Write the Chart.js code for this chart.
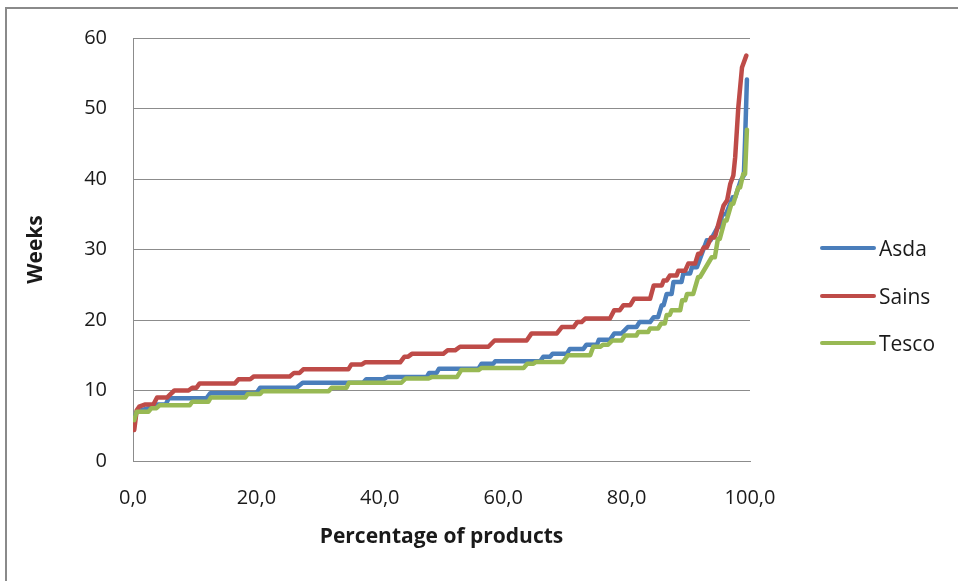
<!DOCTYPE html>
<html>
<head>
<meta charset="utf-8">
<script src="https://cdn.jsdelivr.net/npm/chart.js@4"></script>
<style>
  body { margin: 0; background: #fff; overflow: hidden; }
  #wrap { position: relative; width: 958px; height: 581px; }
  #frame {
    position: absolute; left: 5px; top: 7px; width: 1000px; height: 700px;
    border: 2px solid #8a8a8a; box-sizing: border-box;
  }
  canvas { position: absolute; left: 0; top: 0; }
  #legend { position: absolute; left: 820px; top: 0; font-family: "Open Sans", sans-serif; font-size: 21px; color: #1a1a1a; }
  .item { position: absolute; left: 0; display: flex; align-items: center; white-space: nowrap; }
  .swatch { width: 56px; height: 4px; border-radius: 2px; margin-right: 3px; }
</style>
</head>
<body>
<div id="wrap">
  <div id="frame"></div>
  <canvas id="chart" width="958" height="581"></canvas>
  <div id="legend"></div>
</div>
<script>
const seriesNames = ['Asda', 'Sains', 'Tesco'];
const seriesColors = ['#4A7EBB', '#BE4B48', '#98B954'];

const asdaPct = [0.2, 0.6, 2.5, 3.8, 5.3, 5.8, 11.9, 12.5, 20.0, 20.6, 26.5, 27.5, 37.3, 37.8, 40.6, 41.2,
  47.6, 48.0, 49.2, 49.6, 56.0, 56.5, 58.4, 58.7, 66.0, 66.5, 67.6, 68.0, 70.3, 70.8, 73.0, 73.5, 75.2,
  75.5, 77.3, 78.0, 79.2, 80.2, 81.6, 82.1, 83.8, 84.4, 85.1, 85.7, 86.0, 86.5, 87.3, 87.6, 88.9, 89.2,
  90.3, 90.6, 91.4, 91.9, 93.0, 93.6, 94.8, 95.1, 95.5, 96.1, 97.2, 97.6, 98.5, 99.0, 99.2, 99.5];
const asdaWeeks = [6.0, 7.0, 7.5, 8.0, 8.0, 8.9, 8.9, 9.6, 9.6, 10.4, 10.4, 11.1, 11.1, 11.6, 11.6, 11.9,
  11.9, 12.5, 12.5, 13.1, 13.1, 13.8, 13.8, 14.15, 14.15, 14.8, 14.8, 15.2, 15.2, 15.9, 15.9, 16.5, 16.5,
  17.2, 17.2, 18.1, 18.1, 19.0, 19.0, 19.7, 19.7, 20.4, 20.4, 22.1, 22.1, 23.7, 23.7, 25.4, 25.4, 26.6,
  26.6, 27.5, 27.5, 28.7, 31.3, 31.3, 33.2, 33.2, 35.0, 35.0, 37.4, 37.4, 39.8, 40.5, 45.4, 54.1];

const sainsPct = [0.2, 0.6, 1.0, 1.9, 3.3, 3.9, 5.5, 6.7, 9.0, 9.6, 10.3, 10.8, 16.5, 17.1, 19.0, 19.6,
  25.4, 26.1, 27.0, 27.6, 34.9, 35.4, 37.1, 37.6, 43.3, 44.0, 44.6, 45.2, 50.3, 51.0, 52.2, 53.0, 57.6,
  58.6, 63.8, 64.6, 68.7, 69.5, 71.4, 72.0, 72.7, 73.3, 77.3, 78.0, 78.9, 79.5, 80.6, 81.2, 83.8, 84.4,
  85.7, 86.0, 86.5, 87.0, 88.1, 88.4, 89.5, 90.0, 91.1, 91.6, 92.0, 92.5, 93.0, 93.7, 94.3, 95.0, 95.7,
  96.3, 96.8, 97.3, 97.6, 98.1, 98.7, 99.4];
const sainsWeeks = [4.4, 7.2, 7.7, 8.0, 8.0, 9.0, 9.0, 10.0, 10.0, 10.4, 10.4, 11.0, 11.0, 11.6, 11.6, 12.0,
  12.0, 12.5, 12.5, 13.0, 13.0, 13.7, 13.7, 14.0, 14.0, 14.8, 14.8, 15.2, 15.2, 15.7, 15.7, 16.2, 16.2,
  17.1, 17.1, 18.1, 18.1, 19.0, 19.0, 19.7, 19.7, 20.2, 20.2, 21.4, 21.4, 22.1, 22.1, 23.0, 23.0, 24.9,
  24.9, 25.6, 25.6, 26.3, 26.3, 27.0, 27.0, 28.0, 28.0, 29.4, 29.4, 30.3, 30.3, 31.7, 31.7, 34.0, 36.2,
  37.0, 39.3, 40.5, 43.1, 50.1, 55.8, 57.5];

const tescoPct = [0.2, 0.6, 2.5, 3.0, 3.8, 4.3, 9.2, 9.6, 12.2, 12.6, 18.2, 18.6, 20.6, 21.0, 31.7, 32.2,
  34.6, 35.0, 43.5, 44.2, 47.9, 48.4, 52.5, 53.2, 56.0, 56.5, 63.3, 63.9, 64.9, 65.3, 69.7, 70.5, 74.1,
  74.6, 75.7, 76.2, 77.0, 77.7, 79.2, 79.7, 81.6, 81.9, 83.5, 83.8, 85.1, 85.6, 86.2, 86.5, 87.0, 87.3,
  88.7, 89.0, 89.5, 89.8, 90.8, 91.6, 91.9, 93.8, 94.3, 94.8, 95.1, 95.9, 96.2, 97.0, 97.3, 98.1, 98.4,
  98.9, 99.2, 99.5];
const tescoWeeks = [5.8, 7.0, 7.0, 7.5, 7.5, 7.9, 7.9, 8.4, 8.4, 9.0, 9.0, 9.5, 9.5, 9.9, 9.9, 10.4,
  10.4, 11.1, 11.1, 11.7, 11.7, 11.9, 11.9, 12.9, 12.9, 13.2, 13.2, 13.8, 13.8, 14.05, 14.05, 15.0, 15.0,
  16.2, 16.2, 16.5, 16.5, 17.1, 17.1, 17.8, 17.8, 18.3, 18.3, 18.8, 18.8, 19.5, 19.5, 20.7, 20.7, 21.4,
  21.4, 22.8, 22.8, 23.7, 23.7, 26.1, 26.1, 28.9, 28.9, 31.5, 31.5, 34.1, 34.1, 36.5, 36.5, 38.8, 38.8,
  40.7, 40.7, 47.0];

const xTicks = [0, 20, 40, 60, 80, 100];
const yTicks = [0, 10, 20, 30, 40, 50, 60];

function points(xs, ys) {
  return xs.map((x, i) => ({ x: x, y: ys[i] }));
}

const seriesData = [
  points(asdaPct, asdaWeeks),
  points(sainsPct, sainsWeeks),
  points(tescoPct, tescoWeeks),
];

const gridGrey = '#8c8c8c';
const tickFont = { family: '"Open Sans", sans-serif', size: 20 };
const titleFont = { family: '"Open Sans", sans-serif', size: 21, weight: 'bold' };

const datasets = seriesNames.map((name, i) => ({
  label: name,
  data: seriesData[i],
  borderColor: seriesColors[i],
  backgroundColor: seriesColors[i],
  borderWidth: 4.5,
  borderJoinStyle: 'round',
  borderCapStyle: 'round',
  pointRadius: 0,
  tension: 0,
  fill: false,
  order: 3 - i,
}));

const ctx = document.getElementById('chart').getContext('2d');
const chart = new Chart(ctx, {
  type: 'line',
  data: { datasets },
  options: {
    responsive: false,
    devicePixelRatio: 1,
    animation: false,
    layout: { padding: { left: 0, top: 37, right: 208, bottom: 0 } },
    plugins: {
      legend: { display: false },
      tooltip: { enabled: false },
    },
    scales: {
      x: {
        type: 'linear',
        min: 0,
        max: 100,
        afterBuildTicks: axis => { axis.ticks = xTicks.map(v => ({ value: v })); },
        afterFit: axis => { axis.height = 120; },
        grid: { display: false },
        border: { display: true, color: gridGrey, width: 1 },
        ticks: {
          padding: 17,
          color: '#1a1a1a',
          font: tickFont,
          maxRotation: 0,
          callback: v => v.toFixed(1).replace('.', ','),
        },
        title: {
          display: true,
          text: 'Percentage of products',
          color: '#1a1a1a',
          font: titleFont,
          padding: { top: 0, bottom: 31 },
        },
      },
      y: {
        min: 0,
        max: 60,
        afterBuildTicks: axis => { axis.ticks = yTicks.map(v => ({ value: v })); },
        afterFit: axis => { axis.width = 133; },
        grid: { color: gridGrey, lineWidth: 1, drawTicks: false },
        border: { display: true, color: gridGrey, width: 1 },
        ticks: { padding: 26, color: '#1a1a1a', font: tickFont },
        title: {
          display: true,
          text: 'Weeks',
          color: '#1a1a1a',
          font: titleFont,
          padding: { top: 23, bottom: 0 },
        },
      },
    },
  },
});

// legend as html, built from the datasets
const legendTops = [248, 296, 343];
const legend = document.getElementById('legend');
chart.data.datasets.forEach((ds, i) => {
  const item = document.createElement('div');
  item.className = 'item';
  item.style.top = (legendTops[i] - 14) + 'px';
  item.style.height = '28px';
  const sw = document.createElement('span');
  sw.className = 'swatch';
  sw.style.background = ds.borderColor;
  const label = document.createElement('span');
  label.textContent = ds.label;
  item.appendChild(sw);
  item.appendChild(label);
  legend.appendChild(item);
});
</script>
</body>
</html>
